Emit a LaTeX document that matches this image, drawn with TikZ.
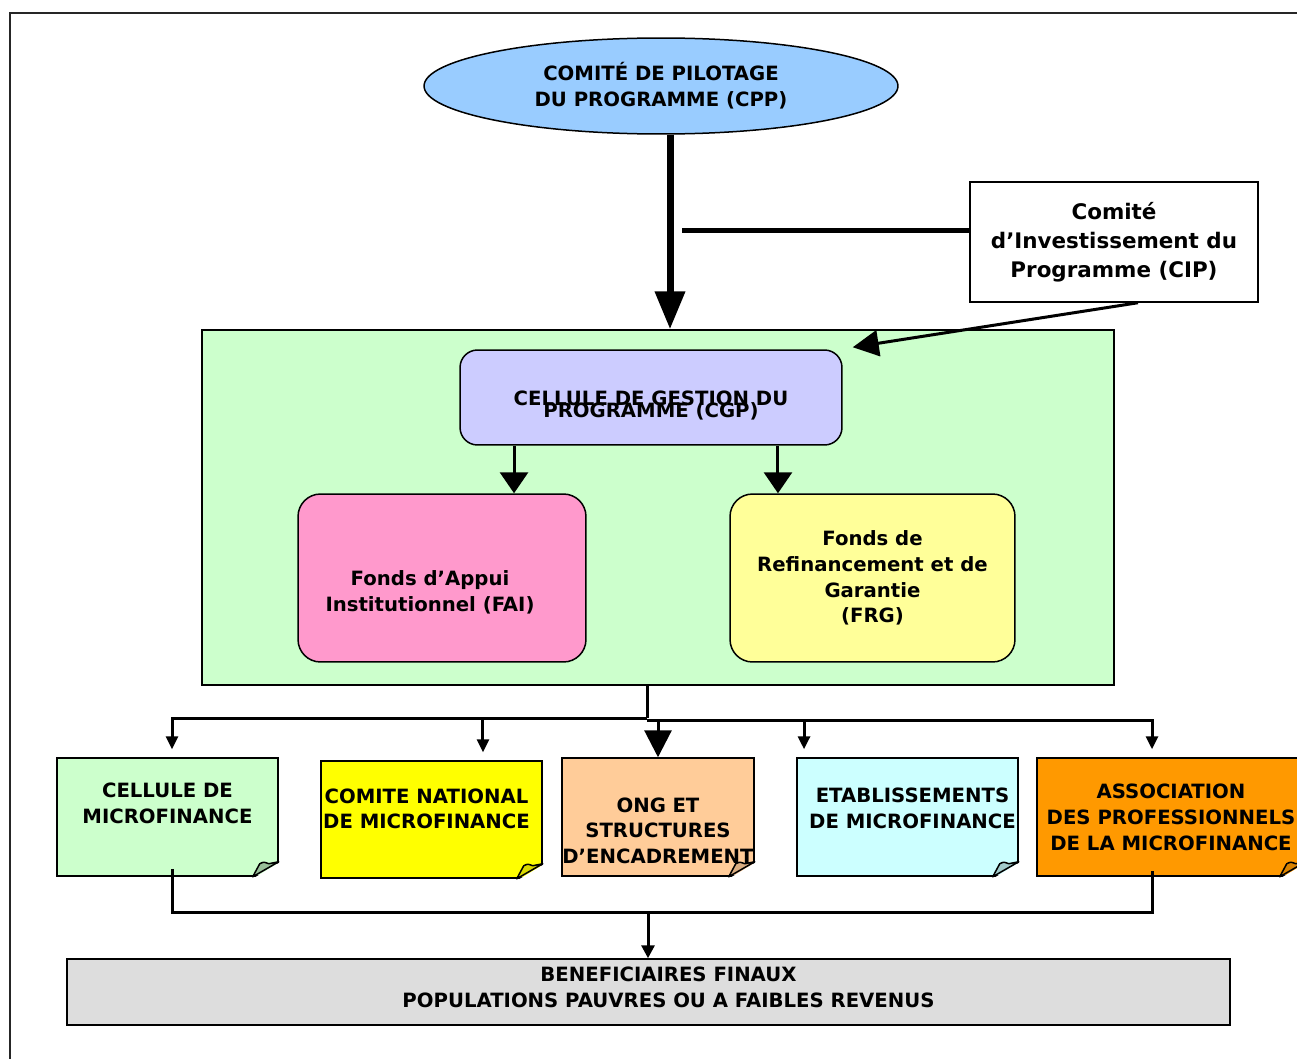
\documentclass[tikz,border=0pt]{standalone}
\usepackage{fontspec}
\setmainfont{DejaVu Sans}
\usetikzlibrary{positioning,shapes.geometric,arrows.meta}

\definecolor{cppblue}{HTML}{99CCFF}
\definecolor{cadregreen}{HTML}{CCFFCC}
\definecolor{cgpviolet}{HTML}{CCCCFF}
\definecolor{faipink}{HTML}{FF99CC}
\definecolor{frgyellow}{HTML}{FFFF99}
\definecolor{cnmyellow}{HTML}{FFFF00}
\definecolor{ongorange}{HTML}{FFCC99}
\definecolor{emfcyan}{HTML}{CCFFFF}
\definecolor{apmorange}{HTML}{FF9900}
\definecolor{bengray}{HTML}{DDDDDD}

\newcommand\topgap[1]{\rule{0pt}{#1}}
\newcommand\botgap[1]{\rule[-#1]{0pt}{#1}}

\begin{document}
\begin{tikzpicture}[
    x=0.02cm, y=-0.02cm,
    font=\bfseries\fontsize{11.2}{14.7}\selectfont,
    box/.style={
        rectangle, draw=black, line width=0.03cm,
        text centered, align=center, inner sep=2pt
    },
    roundbox/.style={
        box, rounded corners=0.35cm
    },
    note/.style={
        box, inner xsep=0pt, minimum width=4.42cm, minimum height=2.36cm
    },
    bigarrow/.style={
        line width=0.14cm, -{Triangle[length=0.76cm, width=0.58cm]}
    },
    midarrow/.style={
        line width=0.06cm, -{Triangle[length=0.52cm, width=0.52cm]}
    },
    bus/.style={
        line width=0.06cm
    },
    smallarrow/.style={
        bus, -{Triangle[length=0.26cm, width=0.24cm]}, shorten >=0.16cm
    }
]

\useasboundingbox (0,0) rectangle (1297,1058);
\draw[line width=0.04cm, black!85] (10,1080) -- (10,13) -- (1320,13);

\node[ellipse, draw=black, line width=0.03cm, fill=cppblue, align=center,
      minimum width=9.48cm, minimum height=1.92cm, inner sep=0pt] (cpp) at (661,86)
      {COMITÉ DE PILOTAGE\\DU PROGRAMME (CPP)};
\node[box, fill=white, minimum width=5.76cm, minimum height=2.4cm,
      font=\bfseries\fontsize{12.2}{16.4}\selectfont] (cip) at (1114,242)
      {Comité\\d’Investissement du\\Programme (CIP)};

\node[box, fill=cadregreen, minimum width=18.24cm, minimum height=7.1cm] (cadre) at (658,507.5) {};
\node[roundbox, fill=cgpviolet, minimum width=7.64cm, minimum height=1.9cm] (cgp) at (651,397.5)
      {\topgap{17.5pt}CELLULE DE GESTION DU\\[-7.6pt]PROGRAMME (CGP)};
\node[roundbox, fill=faipink, minimum width=5.76cm, minimum height=3.36cm,
      rounded corners=0.45cm] (fai) at (442,578)
      {\topgap{24.5pt}Fonds d’Appui\hspace*{0.48cm}\\Institutionnel (FAI)\hspace*{0.48cm}};
\node[roundbox, fill=frgyellow, minimum width=5.7cm, minimum height=3.36cm,
      rounded corners=0.45cm] (frg) at (872.5,578)
      {Fonds de\\Refinancement et de\\Garantie\\(FRG)};

\node[note, fill=cadregreen] (cmf) at (167.5,817) {CELLULE DE\\MICROFINANCE\botgap{16pt}};
\node[note, fill=cnmyellow, minimum height=2.34cm] (cnm) at (431.5,819.5)
      {COMITE NATIONAL\hspace*{0.2cm}\\DE MICROFINANCE\hspace*{0.2cm}\botgap{12.4pt}};
\node[note, fill=ongorange, minimum width=3.84cm, text width=3.84cm] (ong) at (658,817)
      {\topgap{24pt}ONG ET\\STRUCTURES\\D’ENCADREMENT};
\node[note, fill=emfcyan] (emf) at (907.5,817)
      {\hspace*{0.2cm}ETABLISSEMENTS\\\hspace*{0.2cm}DE MICROFINANCE\botgap{9.6pt}};
\node[note, fill=apmorange, minimum width=5.36cm] (apm) at (1171,817)
      {ASSOCIATION\\DES PROFESSIONNELS\\DE LA MICROFINANCE};

\foreach \n/\f in {cmf/cadregreen!75!black, cnm/cnmyellow!85!black, ong/ongorange!85!black,
                   emf/emfcyan!80!black, apm/apmorange!85!black} {
    \fill[white] ([xshift=-0.52cm, yshift=-0.04cm]\n.south east) -- ([xshift=0.04cm, yshift=-0.04cm]\n.south east)
        -- ([xshift=0.04cm, yshift=0.3cm]\n.south east) -- cycle;
    \draw[line width=0.03cm, fill=\f, line join=round] ([xshift=-0.52cm]\n.south east)
        .. controls ([xshift=-0.46cm, yshift=0.14cm]\n.south east) .. ([xshift=-0.38cm, yshift=0.26cm]\n.south east)
        .. controls ([xshift=-0.3cm, yshift=0.3cm]\n.south east) .. ([xshift=-0.2cm, yshift=0.26cm]\n.south east)
        -- ([yshift=0.3cm]\n.south east) -- cycle;
}

\node[box, fill=bengray, minimum width=23.26cm, minimum height=1.32cm] (ben) at (648.5,992)
      {\hspace*{0.8cm}BENEFICIAIRES FINAUX\\\hspace*{0.8cm}POPULATIONS PAUVRES OU A FAIBLES REVENUS\botgap{5.7pt}};

\coordinate (ciphook) at (682,230);
\coordinate (split) at (647,718);
\coordinate (merge) at (648,912);

\draw[bigarrow] ([xshift=0.18cm]cpp.south) -- ([xshift=0.18cm]cpp.south |- cadre.north);
\draw[line width=0.1cm] (ciphook) -- (ciphook -| cip.west);
\draw[midarrow] ([xshift=0.48cm]cip.south) -- ([xshift=0.2cm, yshift=0.04cm]cgp.north east);

\draw[midarrow, -{Triangle[length=0.42cm, width=0.56cm]}] ([xshift=-2.74cm]cgp.south) -- ([xshift=-2.74cm]cgp.south |- fai.north);
\draw[midarrow, -{Triangle[length=0.42cm, width=0.56cm]}] ([xshift=2.54cm]cgp.south) -- ([xshift=2.54cm]cgp.south |- frg.north);

\draw[bus] (cadre.south -| split) -- (split);
\draw[smallarrow] (split) -| ([xshift=0.09cm]cmf.north);
\draw[smallarrow] (split) -| ([xshift=1.03cm]cnm.north);
\draw[bus, -{Triangle[length=0.54cm, width=0.54cm]}] ([yshift=-0.04cm]split -| ong.north) -- (ong.north);
\draw[smallarrow] ([yshift=-0.04cm]split) -| ([xshift=-2.07cm]emf.north);
\draw[smallarrow] ([yshift=-0.04cm]split) -| ([xshift=-0.38cm]apm.north);

\draw[bus] ([xshift=0.09cm, yshift=0.16cm]cmf.south) |- (merge) -| ([xshift=-0.38cm, yshift=0.12cm]apm.south);
\draw[bus, -{Triangle[length=0.26cm, width=0.26cm]}] (merge) -- (merge |- ben.north);

\end{tikzpicture}
\end{document}
